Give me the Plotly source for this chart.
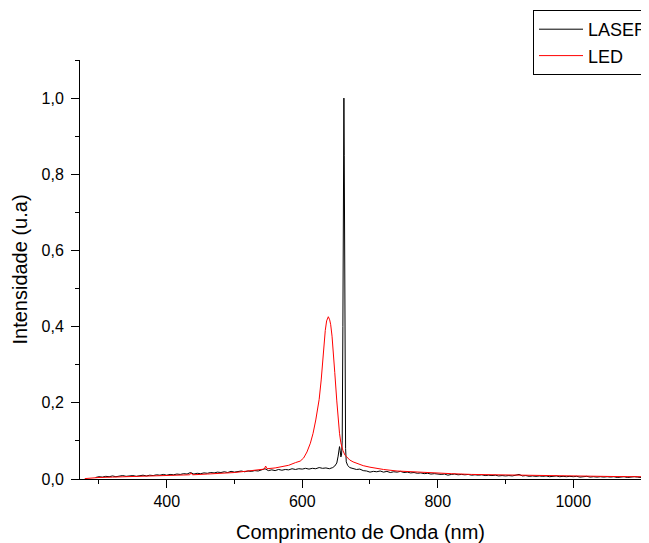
import plotly.graph_objects as go

# ---- LASER spectrum (black) ----
laser_x = [295, 300, 305, 310, 315, 320, 325, 330, 335, 340, 345, 350, 355, 360, 365, 370, 375, 380,
           385, 390, 395, 400, 405, 410, 415, 420, 425, 430, 435, 440, 445, 450, 455, 460, 465, 470,
           475, 480, 485, 490, 495, 500, 505, 510, 515, 520, 525, 530, 535, 540, 545, 550, 555, 560,
           565, 570, 575, 580, 585, 590, 595, 600, 605, 610, 615, 620, 625, 630, 635, 640, 645, 648,
           651, 653, 655, 656, 657, 658, 659, 660, 661, 661.5, 662, 663, 664, 665, 667, 670, 675, 680,
           685, 690, 695, 700, 705, 710, 715, 720, 725, 730, 735, 740, 745, 750, 755, 760, 765, 770,
           775, 780, 785, 790, 795, 800, 805, 810, 815, 820, 825, 830, 835, 840, 845, 850, 855, 860,
           865, 870, 875, 880, 885, 890, 895, 900, 905, 910, 915, 920, 925, 930, 935, 940, 945, 950,
           955, 960, 965, 970, 975, 980, 985, 990, 995, 1000, 1005, 1010, 1015, 1020, 1025, 1030, 1035,
           1040, 1045, 1050, 1055, 1060, 1065, 1070, 1075, 1080, 1085, 1090, 1095, 1100]
laser_y = [0.004, 0.006, 0.005, 0.007, 0.006, 0.008, 0.006, 0.007, 0.009, 0.007, 0.008, 0.009, 0.007,
           0.009, 0.010, 0.008, 0.010, 0.009, 0.011, 0.010, 0.012, 0.010, 0.012, 0.011, 0.013, 0.012,
           0.014, 0.013, 0.017, 0.013, 0.015, 0.014, 0.016, 0.015, 0.017, 0.016, 0.018, 0.017, 0.019,
           0.017, 0.020, 0.018, 0.019, 0.021, 0.019, 0.021, 0.020, 0.022, 0.021, 0.023, 0.027, 0.022,
           0.024, 0.022, 0.025, 0.023, 0.025, 0.024, 0.027, 0.025, 0.027, 0.026, 0.028, 0.026, 0.028,
           0.027, 0.030, 0.028, 0.029, 0.027, 0.030, 0.034, 0.042, 0.060, 0.085, 0.075, 0.058, 0.062,
           0.10, 0.40, 0.92, 1.0, 0.85, 0.30, 0.08, 0.045, 0.036, 0.030, 0.028, 0.025, 0.026, 0.022,
           0.021, 0.018, 0.020, 0.019, 0.021, 0.018, 0.020, 0.017, 0.019, 0.018, 0.020, 0.017, 0.018,
           0.016, 0.017, 0.015, 0.016, 0.014, 0.015, 0.013, 0.014, 0.013, 0.012, 0.013, 0.010, 0.012,
           0.013, 0.011, 0.012, 0.011, 0.012, 0.010, 0.011, 0.010, 0.011, 0.009, 0.010, 0.009, 0.010,
           0.008, 0.009, 0.008, 0.009, 0.008, 0.010, 0.012, 0.008, 0.009, 0.007, 0.008, 0.007, 0.008,
           0.007, 0.008, 0.006, 0.007, 0.008, 0.006, 0.007, 0.006, 0.007, 0.006, 0.007, 0.005, 0.006,
           0.007, 0.005, 0.006, 0.005, 0.006, 0.005, 0.006, 0.005, 0.006, 0.004, 0.005, 0.006, 0.004,
           0.005, 0.006, 0.005, 0.004]

# ---- LED spectrum (red) ----
led_x = [279, 290, 300, 320, 340, 360, 380, 400, 420, 434, 436, 438, 460, 480, 500, 520, 540, 544,
         546, 548, 560, 572, 580, 590, 597, 602, 607, 612, 616, 620, 625, 628, 631, 634, 636, 638.5,
         640.5, 642, 644, 646, 648, 651, 653, 655, 657, 660, 663, 666, 670, 675, 680, 690, 700, 710,
         720, 740, 760, 780, 800, 820, 850, 880, 910, 940, 970, 1000, 1030, 1060, 1100]
led_y = [0.001, 0.003, 0.004, 0.005, 0.006, 0.007, 0.008, 0.009, 0.010, 0.011, 0.016, 0.011, 0.013,
         0.015, 0.017, 0.021, 0.025, 0.026, 0.034, 0.027, 0.029, 0.033, 0.036, 0.043, 0.047, 0.055,
         0.071, 0.094, 0.120, 0.155, 0.209, 0.26, 0.335, 0.39, 0.415, 0.426, 0.418, 0.405, 0.375,
         0.335, 0.28, 0.205, 0.160, 0.120, 0.095, 0.075, 0.063, 0.057, 0.050, 0.045, 0.041, 0.035,
         0.031, 0.028, 0.025, 0.021, 0.019, 0.017, 0.015, 0.014, 0.012, 0.011, 0.010, 0.009, 0.008,
         0.0075, 0.007, 0.0065, 0.006]

x_title = "Comprimento de Onda (nm)"
y_title = "Intensidade (u.a)"

FONT = "Liberation Sans, Arial, Helvetica, sans-serif"

fig = go.Figure()
fig.add_trace(go.Scatter(x=laser_x, y=laser_y, mode="lines", name="LASER",
                         line=dict(color="black", width=1)))
fig.add_trace(go.Scatter(x=led_x, y=led_y, mode="lines", name="LED",
                         line=dict(color="#ff0000", width=1)))

fig.update_layout(
    width=649, height=543,
    margin=dict(l=72, r=16, t=52, b=72, autoexpand=False),
    plot_bgcolor="white", paper_bgcolor="white",
    font=dict(family=FONT, color="black", size=16),
    separators=",.",
    showlegend=True,
    legend=dict(x=(525 - 72) / 561, y=(471 - 2) / 419, xanchor="left", yanchor="top",
                bordercolor="black", borderwidth=1, bgcolor="white",
                font=dict(size=18, family=FONT), itemwidth=44,
                tracegroupgap=0),
)
fig.update_xaxes(
    range=[272, 1100], showgrid=False, zeroline=False,
    showline=True, linecolor="black", linewidth=1,
    ticks="outside", ticklen=8, tickwidth=1, tickcolor="black",
    tick0=0, dtick=200,
    minor=dict(ticks="outside", ticklen=4, dtick=100, tick0=0, tickcolor="black"),
    tickfont=dict(size=16),
    title=dict(text=x_title, font=dict(size=20), standoff=15),
)
fig.update_yaxes(
    range=[0, 1.1], showgrid=False, zeroline=False,
    showline=True, linecolor="black", linewidth=1,
    ticks="outside", ticklen=8, tickwidth=1, tickcolor="black",
    tick0=0, dtick=0.2, tickformat=".1f",
    minor=dict(ticks="outside", ticklen=4, dtick=0.1, tick0=0, tickcolor="black"),
    tickfont=dict(size=16), ticklabelstandoff=4,
    title=dict(text=y_title, font=dict(size=20), standoff=8),
)

fig.write_html("out.html")
